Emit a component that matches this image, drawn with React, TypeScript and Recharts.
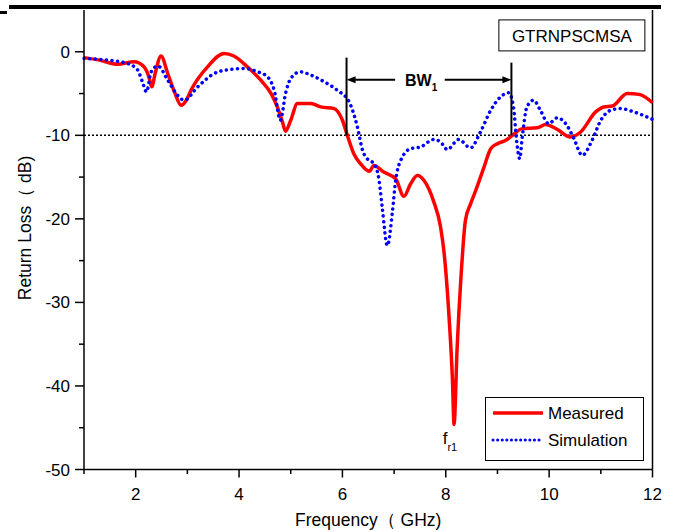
import React from 'react'
import { LineChart, Line, XAxis, YAxis, ReferenceLine, ReferenceDot, Legend } from 'recharts'

const measuredFreq = [1.0, 1.3, 1.65, 1.97, 2.16, 2.26, 2.31, 2.38, 2.49, 2.62, 2.75, 2.88, 2.98, 3.07, 3.39, 3.71, 3.9, 4.16, 4.42, 4.62, 4.74, 4.84, 4.9, 5.0, 5.13, 5.39, 5.58, 5.84, 6.0, 6.1, 6.22, 6.35, 6.52, 6.61, 6.8, 7.03, 7.19, 7.32, 7.45, 7.58, 7.77, 7.9, 7.97, 8.06, 8.13, 8.16, 8.22, 8.29, 8.38, 8.48, 8.58, 8.74, 8.87, 9.0, 9.16, 9.29, 9.48, 9.77, 9.93, 10.16, 10.41, 10.61, 10.9, 11.06, 11.22, 11.51, 11.74, 12.0]
const measuredLoss = [-0.7, -1.0, -1.5, -1.2, -1.8, -3.1, -4.2, -2.5, -0.5, -2.6, -4.8, -6.4, -5.8, -4.6, -1.8, -0.2, -0.5, -1.8, -3.4, -5.0, -6.6, -8.4, -9.5, -8.2, -6.2, -6.2, -6.6, -6.8, -8.2, -10.1, -12.2, -13.4, -14.3, -13.6, -14.4, -15.2, -17.3, -15.8, -14.8, -15.4, -18.0, -21.0, -24.2, -31.4, -39.4, -44.6, -35.4, -27.4, -20.2, -18.2, -16.6, -13.8, -11.6, -11.0, -10.6, -10.0, -9.2, -9.1, -8.7, -9.3, -10.2, -9.6, -7.2, -6.6, -6.5, -5.0, -5.1, -6.1]

const simFreq = [1.0, 1.46, 1.84, 2.04, 2.13, 2.21, 2.3, 2.43, 2.62, 2.81, 2.94, 3.2, 3.52, 3.84, 4.1, 4.36, 4.55, 4.68, 4.8, 4.9, 5.0, 5.19, 5.39, 5.65, 5.9, 6.13, 6.29, 6.39, 6.48, 6.61, 6.71, 6.77, 6.87, 6.97, 7.03, 7.16, 7.32, 7.51, 7.77, 7.9, 8.03, 8.25, 8.48, 8.67, 8.87, 9.06, 9.22, 9.31, 9.37, 9.43, 9.48, 9.57, 9.7, 9.83, 9.99, 10.16, 10.32, 10.48, 10.64, 10.83, 11.0, 11.19, 11.38, 11.64, 12.0]
const simLoss = [-0.8, -1.0, -1.4, -2.2, -3.6, -4.8, -2.4, -1.7, -3.4, -5.2, -5.8, -4.2, -2.6, -2.1, -2.0, -2.4, -3.0, -4.6, -8.2, -5.0, -3.2, -2.4, -2.8, -3.6, -4.6, -6.0, -9.0, -11.8, -12.8, -13.4, -15.4, -18.6, -23.2, -19.0, -15.4, -12.6, -11.6, -11.4, -10.5, -10.8, -11.7, -10.5, -11.5, -9.6, -7.0, -5.4, -4.9, -6.6, -10.6, -12.8, -10.2, -6.6, -5.8, -7.0, -8.6, -7.9, -8.6, -10.4, -12.4, -10.6, -8.2, -7.0, -6.8, -7.2, -8.1]

const xTicks = [1, 2, 3, 4, 5, 6, 7, 8, 9, 10, 11, 12]
const yTicks = [-50, -45, -40, -35, -30, -25, -20, -15, -10, -5, 0]

const measured = measuredFreq.map((f, i) => ({ freq: f, loss: measuredLoss[i] }))
const simulation = simFreq.map((f, i) => ({ freq: f, loss: simLoss[i] }))

const FONT = '"Liberation Sans", Arial, sans-serif'

const XTick = (props: any) => {
  const { x, y, payload } = props
  const major = payload.value % 2 === 0
  return (
    <g>
      <line x1={x} x2={x} y1={y} y2={y + (major ? 8 : 4.5)} stroke="#000" strokeWidth={1.5} />
      {major && (
        <text x={x} y={y + 30} textAnchor="middle" fontSize={17} fontFamily={FONT} fill="#000">
          {payload.value}
        </text>
      )}
    </g>
  )
}

const YTick = (props: any) => {
  const { x, y, payload } = props
  const major = payload.value % 10 === 0
  return (
    <g>
      <line x1={x} x2={x - (major ? 9 : 5)} y1={y} y2={y} stroke="#000" strokeWidth={1.5} />
      {major && (
        <text x={x - 14} y={y + 6} textAnchor="end" fontSize={17} fontFamily={FONT} fill="#000">
          {payload.value}
        </text>
      )}
    </g>
  )
}

const Arrow = (props: any) => {
  const { x1, y1, x2, y2 } = props
  const dir = x2 > x1 ? 1 : -1
  return (
    <g>
      <line x1={x1} y1={y1} x2={x2 - dir * 6} y2={y2} stroke="#000" strokeWidth={2} />
      <polygon points={`${x2},${y2} ${x2 - dir * 9},${y2 - 3.5} ${x2 - dir * 9},${y2 + 3.5}`} fill="#000" />
    </g>
  )
}

const YLabel = () => (
  <text transform="rotate(-90 25 228)" x={25} y={234} textAnchor="middle" fontSize={17.5} fontFamily={FONT} fill="#000">
    Return Loss（ dB)
  </text>
)

const LegendBox = () => (
  <div style={{ width: 159, height: 64, border: '1px solid #000', boxSizing: 'border-box', background: '#fff' }}>
    <svg width={157} height={62} style={{ display: 'block' }}>
      <line x1={7} x2={57} y1={15} y2={15} stroke="#ff0000" strokeWidth={3.5} />
      <text x={62} y={21} fontSize={17} fontFamily={FONT}>Measured</text>
      <line x1={7} x2={57} y1={42} y2={42} stroke="#0000ff" strokeWidth={3} strokeDasharray="0.1 4.5" strokeLinecap="round" />
      <text x={62} y={48} fontSize={17} fontFamily={FONT}>Simulation</text>
    </svg>
  </div>
)

export default function App() {
  return (
    <div style={{ position: 'absolute', left: 0, top: 0, width: 675, height: 532, background: '#fff' }}>
      <div style={{ position: 'absolute', left: 9, top: 5, width: 652, height: 4, background: '#000' }} />
      <div style={{ position: 'absolute', left: 0, top: 11, width: 7, height: 3, background: '#000' }} />
      <LineChart width={675} height={532} margin={{ top: 10, right: 22.5, left: 0, bottom: 0 }}>
        <XAxis
          dataKey="freq"
          type="number"
          domain={[1, 12]}
          ticks={xTicks}
          interval={0}
          height={62.5}
          tickSize={0}
          tickMargin={0}
          tickLine={false}
          tick={<XTick />}
          stroke="#000"
          strokeWidth={1.5}
          allowDuplicatedCategory={false}
          label={{ value: 'Frequency（ GHz)', position: 'insideBottom', offset: 6, fontSize: 17.5, fontFamily: FONT, fill: '#000' }}
        />
        <YAxis
          type="number"
          domain={[-50, 5]}
          ticks={yTicks}
          interval={0}
          width={84}
          tickSize={0}
          tickMargin={0}
          tickLine={false}
          tick={<YTick />}
          stroke="#000"
          strokeWidth={1.5}
          label={{ content: () => <YLabel /> }}
        />
        <ReferenceLine x={12} stroke="#000" strokeWidth={1.5} />
        <ReferenceLine y={-10} stroke="#000" strokeWidth={1.5} strokeDasharray="2 2" />
        <Line data={measured} dataKey="loss" type="monotone" stroke="#ff0000" strokeWidth={3.5} dot={false} isAnimationActive={false} name="Measured" />
        <Line data={simulation} dataKey="loss" type="monotone" stroke="#0000ff" strokeWidth={3.5} strokeDasharray="0.1 5.5" strokeLinecap="round" dot={false} isAnimationActive={false} name="Simulation" />
        <ReferenceLine segment={[{ x: 6.08, y: -0.7 }, { x: 6.08, y: -10 }]} stroke="#000" strokeWidth={2} />
        <ReferenceLine segment={[{ x: 9.27, y: -1.3 }, { x: 9.27, y: -10 }]} stroke="#000" strokeWidth={2} />
        <ReferenceLine segment={[{ x: 7.02, y: -3.35 }, { x: 6.08, y: -3.35 }]} shape={<Arrow />} />
        <ReferenceLine segment={[{ x: 7.98, y: -3.35 }, { x: 9.27, y: -3.35 }]} shape={<Arrow />} />
        <ReferenceDot
          x={7.6}
          y={-3.35}
          r={0}
          ifOverflow="visible"
          shape={(p: any) => (
            <text x={p.cx - 4} y={p.cy + 6} textAnchor="middle" fontSize={16} fontWeight="bold" fontFamily={FONT}>
              BW<tspan fontSize={10} dy={5}>1</tspan>
            </text>
          )}
        />
        <ReferenceDot
          x={8.08}
          y={-46.2}
          r={0}
          ifOverflow="visible"
          shape={(p: any) => (
            <text x={p.cx} y={p.cy + 6} textAnchor="middle" fontSize={17} fontFamily={FONT}>
              f<tspan fontSize={11} dy={7}>r1</tspan>
            </text>
          )}
        />
        <ReferenceDot
          x={10.44}
          y={1.9}
          r={0}
          ifOverflow="visible"
          shape={(p: any) => (
            <g>
              <rect x={p.cx - 73} y={p.cy - 16} width={146} height={31} fill="#fff" stroke="#000" strokeWidth={1} />
              <text x={p.cx} y={p.cy + 6} textAnchor="middle" fontSize={17} fontFamily={FONT}>GTRNPSCMSA</text>
            </g>
          )}
        />
        <Legend
          layout="horizontal"
          verticalAlign="middle"
          content={() => <LegendBox />}
          wrapperStyle={{ left: 485, top: 397, width: 159, height: 64 }}
        />
      </LineChart>
    </div>
  )
}
